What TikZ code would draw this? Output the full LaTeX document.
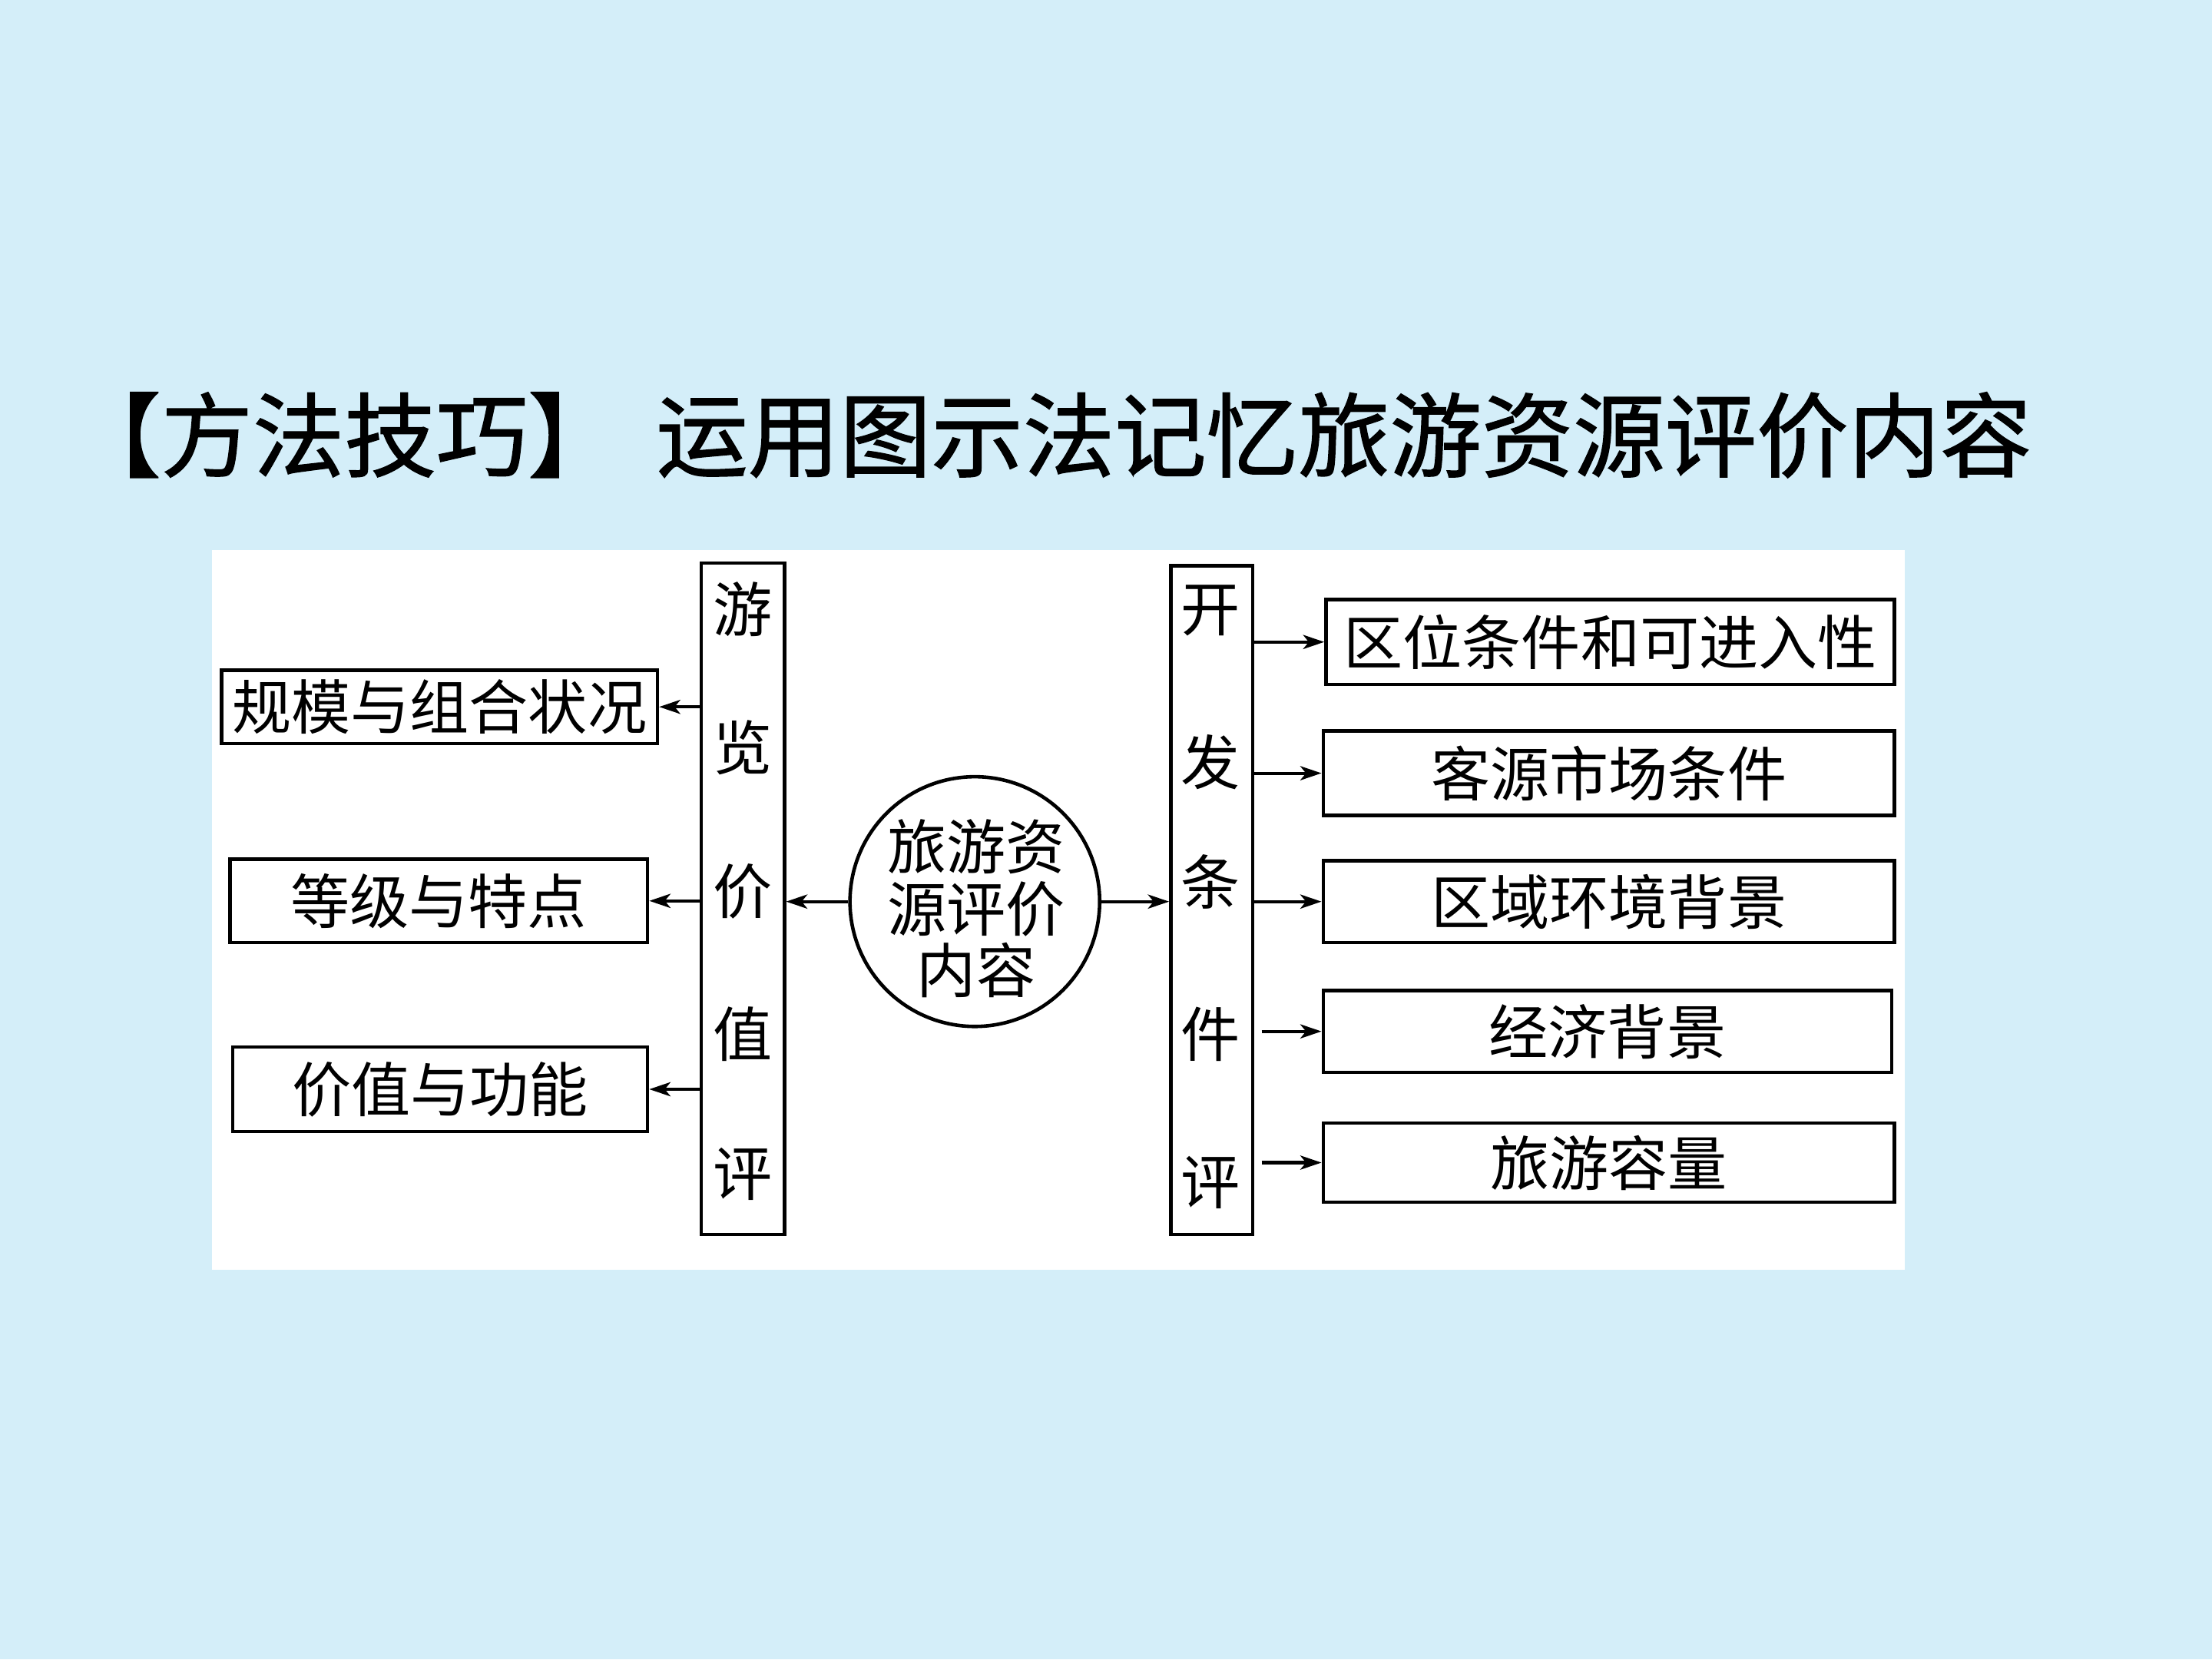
\documentclass[tikz,border=0pt]{standalone}
\usepackage{fontspec}
\setmainfont{Noto Sans CJK SC}
\newfontfamily\titlefont{Noto Sans CJK SC}[FakeBold=1.2]
\usetikzlibrary{arrows.meta}
\definecolor{bgblue}{RGB}{212,238,249}
\begin{document}
\begin{tikzpicture}[x=1pt,y=-1pt,
  box/.style={draw, line width=2.5pt, rectangle, inner sep=0pt, font=\fontsize{42}{44}\selectfont},
  vbox/.style={draw, line width=2.5pt, rectangle, inner sep=0pt},
  vchar/.style={inner sep=0pt, font=\fontsize{42}{44}\selectfont},
  arr/.style={line width=2.2pt, -{Stealth[length=15pt,width=10pt,inset=4pt]}},
]
\fill[bgblue] (0,0) rectangle (1568,1176);
\useasboundingbox (0,0) rectangle (1568,1176);
\fill[white] (150,390) rectangle (1350,900);

\node[anchor=base west, inner sep=0pt, font=\titlefont\fontsize{65}{70}\selectfont] (T) at (49,333) {【方法技巧】\hspace{26pt}运用图示法记忆旅游资源评价内容};

% vertical boxes
\node[vbox, minimum width=59pt, minimum height=476pt] (L) at (526.5,637) {};
\node[vbox, minimum width=58pt, minimum height=474pt] (R) at (859,638) {};
\node[vchar] (L1) at (526.5,432) {游};
\node[vchar] (L2) at (526.5,530) {览};
\node[vchar] (L3) at (526.5,632) {价};
\node[vchar] (L4) at (526.5,733) {值};
\node[vchar] (L5) at (526.5,832) {评};
\node[vchar] (R1) at (858,433) {开};
\node[vchar] (R2) at (858,540) {发};
\node[vchar] (R3) at (858,625) {条};
\node[vchar] (R4) at (858,733) {件};
\node[vchar] (R5) at (858,838) {评};

% circle
\node[draw, circle, line width=2.5pt, minimum size=177pt, inner sep=0pt] (C) at (691,639) {};
\node[inner sep=0pt, align=center, font=\fontsize{42}{44}\selectfont] (CT) at (692,644) {旅游资\\源评价\\内容};

% left boxes
\node[box, minimum width=309pt, minimum height=52pt] (b1) at (311.5,501) {规模与组合状况};
\node[box, minimum width=296pt, minimum height=59pt] (b2) at (311,638.5) {等级与特点};
\node[box, minimum width=294pt, minimum height=60pt] (b3) at (312,772) {价值与功能};

% right boxes
\node[box, minimum width=403pt, minimum height=60pt] (c1) at (1141.5,455) {区位条件和可进入性};
\node[box, minimum width=405pt, minimum height=60pt] (c2) at (1140.5,548) {客源市场条件};
\node[box, minimum width=405pt, minimum height=58pt] (c3) at (1140.5,639) {区域环境背景};
\node[box, minimum width=403pt, minimum height=58pt] (c4) at (1139.5,731) {经济背景};
\node[box, minimum width=405pt, minimum height=56pt] (c5) at (1140.5,824) {旅游容量};

% arrows
\draw[arr] (C.west) -- (C.west -| L.east);
\draw[arr] (C.east) -- (C.east -| R.west);
\draw[arr] (b1.east -| L.west) -- (b1.east);
\draw[arr] (b2.east -| L.west) -- (b2.east);
\draw[arr] (b3.east -| L.west) -- (b3.east);
\draw[arr] (c1.west -| R.east) -- (c1.west);
\draw[arr] (c2.west -| R.east) -- (c2.west);
\draw[arr] (c3.west -| R.east) -- (c3.west);
\draw[arr] ([xshift=5pt]c4.west -| R.east) -- (c4.west);
\draw[arr] ([xshift=5pt]c5.west -| R.east) -- (c5.west);
\end{tikzpicture}
\end{document}
